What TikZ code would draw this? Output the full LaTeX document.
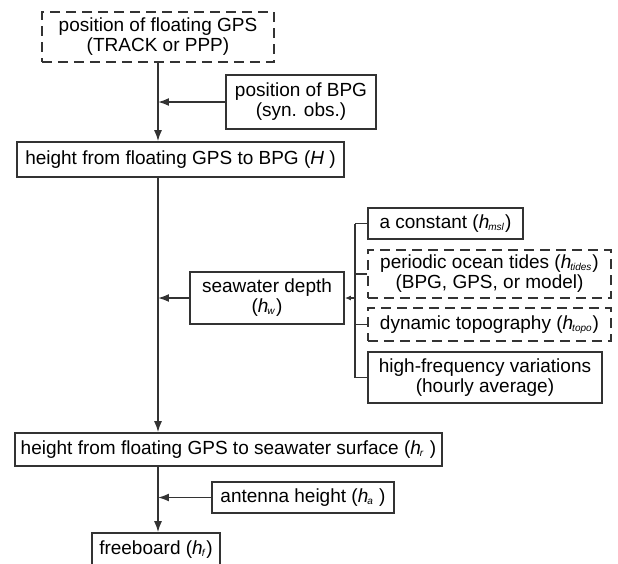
\documentclass[tikz,border=0pt]{standalone}
\usepackage{fontspec}
\setmainfont{Liberation Sans}
\usetikzlibrary{arrows.meta}
\newcommand{\hvar}[1]{\textit{h}\textsubscript{\kern-0.5pt\tiny\textit{#1}}}
\begin{document}
\begin{tikzpicture}[x=0.5pt,y=-0.5pt,line width=0.8pt,draw=black!80,
    box/.style={rectangle,draw,inner sep=0pt,align=center,font=\fontsize{9.5}{10}\selectfont},
    dbox/.style={box,dash pattern=on 5pt off 3pt},
    >={Latex[length=5.5pt,width=4pt]}]
    \clip (0,0) rectangle (618,564);
    %boxes main column
    \node (gps) at (158,37) [dbox,minimum width=116pt,minimum height=25pt]{position of floating GPS\\(TRACK or PPP)};
    \node (bpg) at (301,102) [box,minimum width=75pt,minimum height=27pt]{position of BPG\\(syn. obs.)};
    \node (H) at (180.5,159.5) [box,minimum width=163.5pt,minimum height=17.5pt]{height from floating GPS to BPG (\textit{H} )};
    \node (sw) at (267,298) [box,minimum width=77pt,minimum height=26pt]{seawater depth\\(\hvar{w})};
    \node (hr) at (228.5,449.5) [box,minimum width=213.5pt,minimum height=16.5pt]{height from floating GPS to seawater surface (\hvar{r} )};
    \node (ant) at (303,497.5) [box,minimum width=91pt,minimum height=15.5pt]{antenna height (\hvar{a} )};
    \node (fb) at (156,550) [box,minimum width=64pt,minimum height=17pt]{freeboard (\hvar{f})};

    %boxes seawater parts
    \node (msl) at (445.5,223.5) [box,minimum width=77.5pt,minimum height=15.5pt]{a constant (\hvar{msl})};
    \node (tides) at (489.5,274) [dbox,minimum width=121.5pt,minimum height=24pt]{periodic ocean tides (\hvar{tides})\\(BPG, GPS, or model)};
    \node (topo) at (489.5,324.5) [dbox,minimum width=121.5pt,minimum height=16.5pt]{dynamic topography (\hvar{topo})};
    \node (hf) at (485,377.5) [box,minimum width=117pt,minimum height=25.5pt]{high-frequency variations\\(hourly average)};

    %main line
    \draw [->] (gps.south) to (gps.south |- H.north);
    \draw [->] (gps.south |- H.south) to (gps.south |- hr.north);
    \draw [->] (gps.south |- hr.south) to (gps.south |- fb.north);

    %side inputs
    \draw [->] (bpg.west) to (bpg.west -| gps.south);
    \draw [->] (sw.west) to (sw.west -| gps.south);
    \draw [->] (ant.west) to (ant.west -| gps.south);

    %bracket
    \coordinate (brt) at (355,223.5);
    \coordinate (brb) at (355,377.5);
    \draw [-] (brt) to (brb);
    \draw [-] (msl.west) to (msl.west -| brt);
    \draw [-] (tides.west) to (tides.west -| brt);
    \draw [-] (topo.west) to (topo.west -| brt);
    \draw [-] (hf.west) to (hf.west -| brt);
    \draw [-{Latex[length=3pt,width=2.4pt]}] (sw.east -| brt) to (sw.east);
\end{tikzpicture}
\end{document}
